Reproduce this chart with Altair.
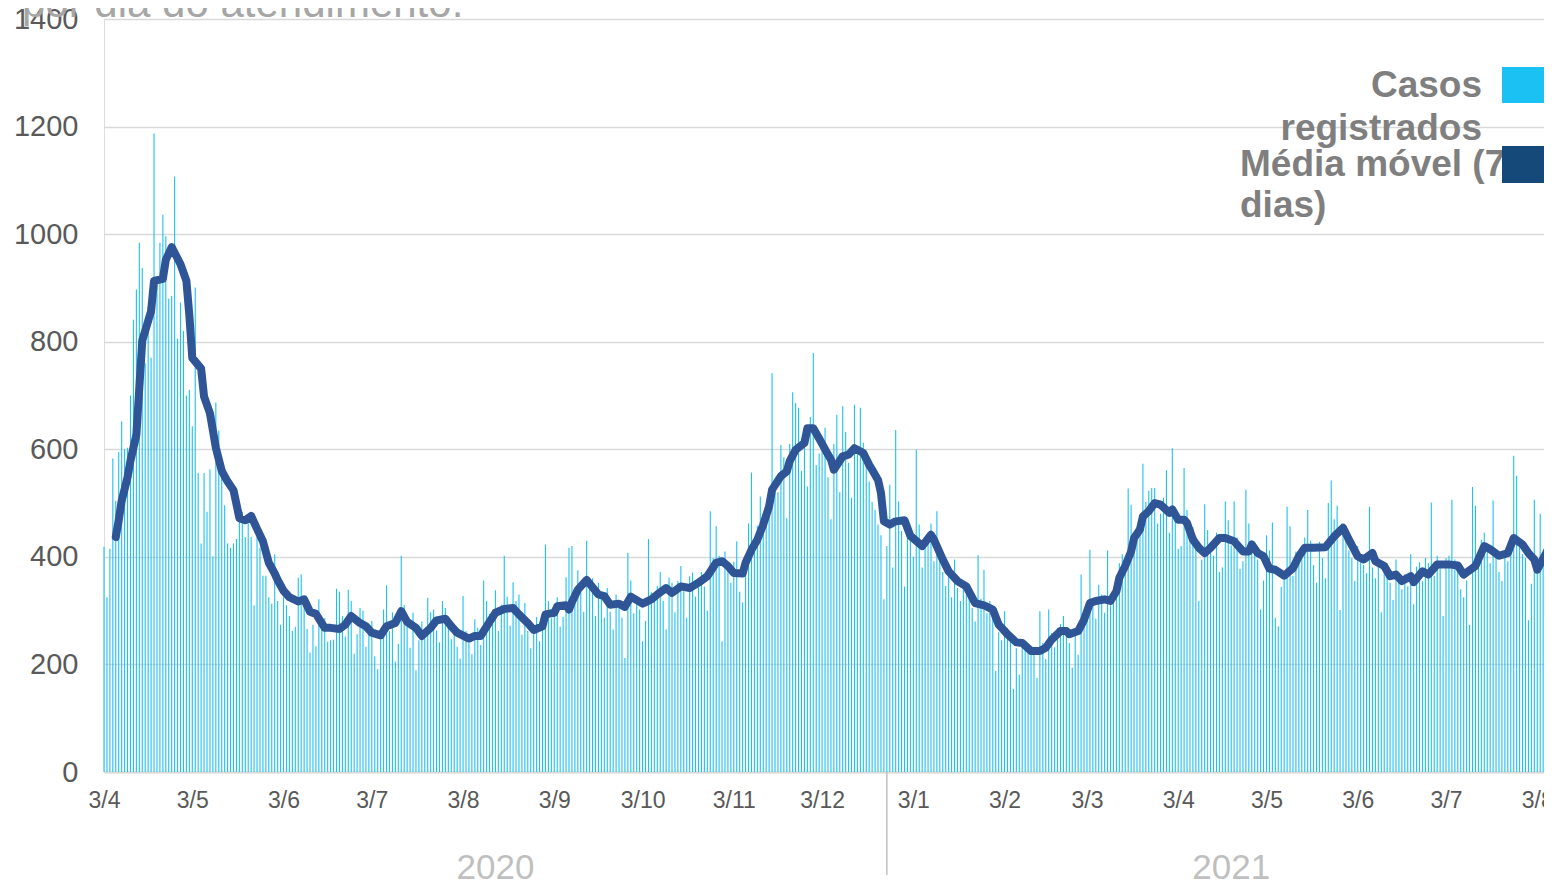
import altair as alt
import pandas as pd

# Casos registrados por dia (a partir de 03/04/2020)
casos = [
    419, 325, 415, 583, 504, 595, 652,
    600, 603, 700, 841, 897, 984, 937,
    760, 865, 770, 1187, 920, 984, 1036,
    996, 880, 885, 1107, 806, 873, 820,
    700, 710, 643, 901, 556, 425, 556,
    484, 563, 401, 687, 635, 556, 496,
    425, 417, 425, 433, 492, 484, 437,
    465, 437, 310, 437, 417, 365, 365,
    325, 313, 405, 318, 274, 325, 310,
    290, 262, 270, 361, 367, 325, 266,
    222, 274, 234, 321, 286, 286, 242,
    245, 246, 341, 335, 290, 252, 339,
    318, 220, 256, 305, 300, 233, 268,
    281, 215, 191, 246, 302, 347, 262,
    297, 205, 238, 402, 310, 283, 231,
    296, 189, 245, 280, 255, 324, 297,
    302, 263, 241, 318, 305, 285, 247,
    274, 233, 211, 327, 262, 240, 219,
    284, 268, 236, 356, 318, 294, 290,
    338, 262, 311, 402, 326, 272, 353,
    318, 330, 255, 314, 262, 230, 271,
    288, 243, 279, 423, 318, 286, 305,
    325, 270, 288, 362, 417, 420, 326,
    375, 342, 298, 430, 345, 360, 290,
    352, 325, 287, 342, 298, 265, 330,
    320, 287, 212, 407, 356, 295, 318,
    302, 243, 281, 433, 334, 321, 346,
    372, 318, 265, 361, 352, 297, 355,
    383, 336, 287, 364, 371, 326, 360,
    372, 345, 300, 485, 398, 457, 402,
    243, 410, 378, 352, 391, 429, 335,
    315, 401, 462, 557, 430, 458, 512,
    480, 468, 525, 742, 545, 520, 608,
    585, 472, 610, 706, 686, 677, 560,
    642, 531, 660, 779, 571, 592, 598,
    640, 548, 470, 610, 664, 520, 680,
    632, 575, 510, 683, 590, 677, 612,
    588, 540, 502, 487, 460, 440, 321,
    420, 534, 380, 636, 503, 448, 345,
    455, 430, 400, 599, 460, 380, 420,
    440, 462, 392, 485, 410, 372, 346,
    372, 325, 395, 342, 318, 355, 330,
    342, 305, 280, 403, 322, 376, 295,
    318, 292, 188, 260, 245, 299, 268,
    258, 155, 230, 181, 242, 240, 228,
    232, 218, 175, 299, 240, 210, 302,
    258, 232, 268, 275, 290, 252, 240,
    194, 262, 218, 367, 290, 302, 413,
    322, 285, 348, 330, 296, 412, 310,
    335, 352, 388, 405, 372, 527, 497,
    440, 455, 478, 573, 502, 523, 528,
    528, 462, 480, 510, 561, 445, 602,
    470, 415, 420, 565, 487, 432, 455,
    438, 318, 395, 498, 450, 418, 402,
    445, 372, 380, 503, 468, 421, 503,
    436, 378, 392, 525, 462, 410, 412,
    395, 302, 356, 440, 412, 464, 287,
    271, 344, 360, 493, 457, 365, 410,
    396, 418, 436, 487, 430, 385, 352,
    428, 398, 360, 500, 542, 470, 495,
    301, 452, 432, 412, 398, 355, 420,
    402, 385, 370, 493, 380, 360, 385,
    297, 372, 388, 352, 320, 395, 355,
    340, 368, 345, 405, 312, 382, 390,
    355, 398, 388, 501, 365, 402, 382,
    290, 398, 402, 506, 395, 378, 340,
    325, 356, 274, 530, 495, 392, 432,
    445, 418, 388, 505, 402, 372, 355,
    410, 392, 428, 588, 551, 432, 405,
    398, 282, 350, 506, 382, 480, 392,
    410, 438, 445,
]

# Média móvel (7 dias): dia (a partir de 03/04/2020) e valor
mm_dia = [
    4, 5, 6, 8, 9, 11, 12, 13, 16, 17, 20, 21, 23, 26, 28, 29, 30, 33, 34, 36,
    38, 40, 42, 44, 46, 48, 50, 52, 54, 56, 58, 59, 61, 63, 66, 68, 70, 72, 75, 77,
    80, 82, 84, 87, 89, 91, 94, 96, 99, 101, 103, 106, 108, 111, 113, 116, 118, 120, 124, 126,
    128, 131, 133, 136, 139, 141, 144, 146, 149, 150, 153, 154, 157, 158, 159, 161, 164, 168, 170, 172,
    175, 177, 179, 183, 186, 188, 191, 193, 196, 199, 202, 205, 208, 210, 212, 214, 217, 218, 220, 222,
    224, 226, 227, 230, 232, 233, 235, 238, 239, 241, 243, 246, 247, 248, 251, 253, 255, 258, 260, 261,
    263, 264, 265, 267, 269, 272, 274, 278, 281, 282, 285, 287, 290, 293, 296, 299, 302, 304, 307, 310,
    312, 315, 318, 320, 322, 325, 327, 328, 331, 333, 335, 337, 340, 342, 344, 345, 347, 349, 350, 352,
    353, 355, 357, 359, 362, 363, 365, 367, 368, 370, 372, 374, 376, 379, 381, 384, 387, 389, 390, 392,
    394, 396, 398, 401, 404, 406, 408, 411, 415, 418, 421, 423, 426, 428, 431, 432, 435, 437, 439, 441,
    444, 445, 448, 450, 453, 457, 460, 462, 466, 469, 471, 474, 477, 479, 482, 484, 486, 487, 490, 492,
]
mm_valor = [
    437, 468, 504, 548, 579, 627, 714, 802, 857, 913, 917, 952, 976, 944, 913, 849, 770, 750, 698, 667,
    603, 560, 540, 524, 472, 468, 476, 452, 429, 389, 369, 357, 337, 325, 317, 321, 298, 294, 268, 268,
    266, 274, 290, 277, 271, 259, 254, 271, 277, 299, 279, 268, 253, 268, 282, 285, 271, 259, 248, 253,
    253, 279, 296, 303, 305, 293, 277, 264, 271, 293, 296, 308, 310, 302, 316, 339, 357, 330, 327, 311,
    313, 307, 326, 313, 321, 330, 342, 333, 345, 342, 352, 364, 389, 392, 383, 370, 369, 389, 413, 432,
    460, 494, 525, 550, 559, 578, 599, 612, 639, 639, 620, 590, 581, 562, 587, 590, 602, 593, 571, 562,
    543, 519, 466, 460, 466, 468, 439, 420, 441, 432, 395, 373, 355, 345, 314, 310, 302, 274, 256, 241,
    240, 225, 225, 231, 246, 262, 262, 256, 262, 283, 314, 318, 321, 318, 336, 361, 383, 410, 435, 451,
    475, 485, 500, 497, 482, 488, 469, 469, 463, 432, 417, 407, 417, 435, 435, 429, 410, 410, 423, 407,
    401, 378, 376, 365, 379, 401, 417, 417, 418, 438, 454, 432, 401, 395, 407, 392, 383, 364, 367, 355,
    364, 353, 373, 367, 386, 386, 384, 367, 383, 420, 414, 402, 407, 435, 423, 407, 395, 376, 407, 429,
]

ticks_meses = [(2020, m) for m in range(4, 13)] + [(2021, m) for m in range(1, 9)]
anos = ["2020", "2021"]
anos_centro = ["2020-08-14", "2021-04-21"]
separador_anos = ["2020-12-25"]

inicio = pd.Timestamp("2020-04-03")
fmt = "%Y-%m-%dT%H:%M:%S"

df_bar = pd.DataFrame({
    "data": [(inicio + pd.Timedelta(days=i)).strftime(fmt) for i in range(len(casos))],
    "casos": casos,
})
df_mm = pd.DataFrame({
    "data": [(inicio + pd.Timedelta(days=d)).strftime(fmt) for d in mm_dia],
    "casos": mm_valor,
})
df_anos = pd.DataFrame({"data": [pd.Timestamp(a).strftime(fmt) for a in anos_centro], "ano": anos})
df_sep = pd.DataFrame({"data": [pd.Timestamp(s).strftime(fmt) for s in separador_anos]})
df_um = pd.DataFrame({"k": [0]})

FONT = "Liberation Sans"
AZUL_CLARO = "#1BC1F3"
AZUL_LINHA = "#2F5597"
AZUL_LEG = "#15497A"

# plot area 1440 px wide = 489.3 days (same px/day as the reference)
x_scale = alt.Scale(domain=[alt.DateTime(year=2020, month=4, date=3),
                            alt.DateTime(year=2021, month=8, date=5, hours=7)],
                    padding=0)
y_scale = alt.Scale(domain=[0, 1400], nice=False)

x_axis = alt.Axis(
    values=[alt.DateTime(year=y, month=m, date=3) for y, m in ticks_meses],
    format="%-d/%-m", title=None, grid=False, ticks=False, tickSize=0,
    labelFont=FONT, labelFontSize=23, labelColor="#595959", labelPadding=17,
    labelOverlap=False, labelFlush=False, labelBound=False,
    domainColor="#D9D9D9", domainWidth=2,
)
y_axis = alt.Axis(
    values=[0, 200, 400, 600, 800, 1000, 1200, 1400], title=None, format="d",
    domain=False, domainOpacity=0, ticks=False, tickSize=0, labelPadding=26,
    labelFont=FONT, labelFontSize=29, labelColor="#595959",
    gridColor="#D9D9D9", gridWidth=1.5,
)

X = alt.X("data:T", scale=x_scale, axis=x_axis)

barras = alt.Chart(df_bar).mark_bar(size=1.1, color=AZUL_CLARO).encode(
    x=X,
    y=alt.Y("casos:Q", scale=y_scale, axis=y_axis),
)

linha = alt.Chart(df_mm).mark_line(
    color=AZUL_LINHA, strokeWidth=8, strokeJoin="round", strokeCap="round"
).encode(
    x=X,
    y=alt.Y("casos:Q", scale=y_scale, axis=y_axis),
)

sep = alt.Chart(df_sep).mark_rule(color="#BFBFBF", strokeWidth=1.5).encode(
    x=X,
    y=alt.value(753), y2=alt.value(856),
)

anos_txt = alt.Chart(df_anos).mark_text(
    font=FONT, fontSize=35, color="#BFBFBF", baseline="alphabetic", align="center"
).encode(
    x=X,
    y=alt.value(860),
    text="ano:N",
)

titulo = alt.Chart(df_um).mark_text(
    text="por dia do atendimento.", font=FONT, fontSize=42, color="#A6A6A6",
    align="left", baseline="alphabetic",
).encode(x=alt.value(-82), y=alt.value(-2))

leg_style = dict(font=FONT, fontSize=37, fontWeight="bold", color="#7F7F7F", baseline="alphabetic")
leg1a = alt.Chart(df_um).mark_text(text="Casos", align="right", **leg_style).encode(
    x=alt.value(1378), y=alt.value(78))
leg1b = alt.Chart(df_um).mark_text(text="registrados", align="right", **leg_style).encode(
    x=alt.value(1378), y=alt.value(121))
leg2a = alt.Chart(df_um).mark_text(text="Média móvel (7", align="left", **leg_style).encode(
    x=alt.value(1136), y=alt.value(157))
leg2b = alt.Chart(df_um).mark_text(text="dias)", align="left", **leg_style).encode(
    x=alt.value(1136), y=alt.value(198))
box1 = alt.Chart(df_um).mark_rect(color=AZUL_CLARO).encode(
    x=alt.value(1398), x2=alt.value(1443), y=alt.value(48), y2=alt.value(84))
box2 = alt.Chart(df_um).mark_rect(color=AZUL_LEG).encode(
    x=alt.value(1398), x2=alt.value(1443), y=alt.value(127), y2=alt.value(164))

chart = alt.layer(
    barras, linha, sep, anos_txt, titulo, leg1a, leg1b, leg2a, leg2b, box1, box2
).properties(
    width=1440, height=753,
    padding={"left": 96, "top": 11, "right": 0, "bottom": 109},
    autosize=alt.AutoSizeParams(type="none"),
).configure_view(
    stroke="transparent", strokeWidth=0, strokeOpacity=0
).configure_axisY(domain=False, domainOpacity=0).configure(font=FONT)

chart.save("out.html", embed_options={"renderer": "svg", "actions": False})
